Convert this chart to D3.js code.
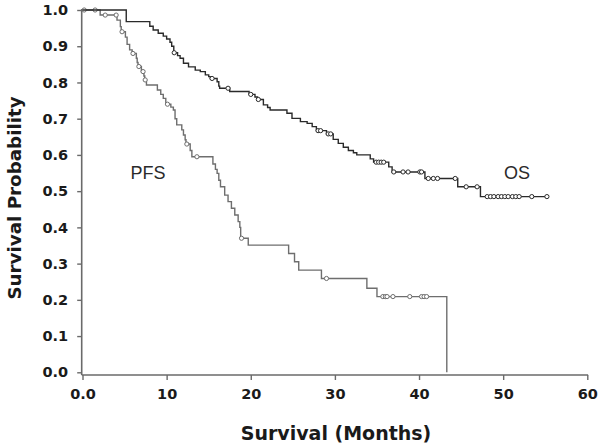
<!DOCTYPE html>
<html>
<head>
<meta charset="utf-8">
<script src="https://cdn.jsdelivr.net/npm/d3@7"></script>
<style>
  html, body { margin: 0; padding: 0; background: #fff; }
  svg { display: block; }
</style>
</head>
<body>
<svg id="chart" width="600" height="443"></svg>
<script>
// ---- Data ----
const xTickValues = [0, 10, 20, 30, 40, 50, 60];
const xTickLabels = ["0.0", "10", "20", "30", "40", "50", "60"];
const yTickValues = [0, 0.1, 0.2, 0.3, 0.4, 0.5, 0.6, 0.7, 0.8, 0.9, 1.0];

// OS: event times (months) and survival right after each step
const osTimes = [0, 5.2, 8.0, 8.4, 9.0, 9.6, 10.0, 10.4, 10.6, 10.85, 11.3, 11.6, 12.0, 12.6, 13.4, 14.0, 14.6, 15.0, 15.2,
  16.0, 16.2, 16.3, 17.5, 19.8, 20.5, 20.8, 21.5, 22.0, 22.3, 24.3, 24.9, 25.9, 26.7, 27.3, 27.8, 29.0, 29.8, 30.4, 31.0,
  31.6, 32.2, 32.6, 34.2, 34.6, 36.4, 36.8, 40.7, 44.6, 47.3];
const osSurv = [1.0, 0.968, 0.955, 0.945, 0.936, 0.928, 0.92, 0.911, 0.9, 0.882, 0.874, 0.867, 0.853, 0.843, 0.834, 0.83, 0.821, 0.816, 0.811,
  0.802, 0.79, 0.784, 0.775, 0.767, 0.76, 0.753, 0.738, 0.731, 0.724, 0.715, 0.701, 0.692, 0.687, 0.678, 0.667, 0.658, 0.643, 0.632, 0.621,
  0.612, 0.606, 0.6, 0.589, 0.58, 0.567, 0.553, 0.535, 0.512, 0.485];
const osEnd = 55.2;
const osCensor = [10.9, 15.4, 17.3, 20.0, 20.9, 28.0, 28.3, 29.2, 29.5, 34.9, 35.2, 35.5, 35.8, 37.0, 38.1, 38.7, 40.1, 40.3,
  41.1, 41.7, 42.2, 44.3, 45.6, 46.9, 48.1, 48.5, 48.9, 49.4, 49.8, 50.2, 50.6, 51.1, 51.5, 51.9, 53.4, 55.2];

// PFS
const pfsTimes = [0, 2.1, 4.1, 4.5, 4.6, 5.1, 5.3, 5.6, 5.9, 6.4, 6.5, 6.6, 7.0, 7.3, 7.4, 7.6, 8.9, 9.3, 9.6, 9.9, 10.5, 10.8,
  11.0, 11.2, 11.8, 12.0, 12.2, 12.3, 12.8, 13.0, 15.5, 15.8, 16.0, 16.2, 16.4, 16.9, 17.3, 17.7, 18.1, 18.5, 18.7, 18.8,
  19.7, 24.5, 25.2, 25.7, 28.4, 33.8, 35.0, 43.3];
const pfsSurv = [1.0, 0.986, 0.972, 0.954, 0.94, 0.925, 0.905, 0.89, 0.88, 0.867, 0.855, 0.844, 0.83, 0.818, 0.807, 0.793, 0.779, 0.767, 0.756, 0.74, 0.732, 0.724,
  0.70, 0.683, 0.669, 0.655, 0.642, 0.63, 0.612, 0.595, 0.575, 0.56, 0.549, 0.53, 0.512, 0.489, 0.471, 0.453, 0.434, 0.416, 0.40, 0.37,
  0.351, 0.328, 0.305, 0.282, 0.259, 0.232, 0.209, 0.0];
const pfsEnd = 43.3;
const pfsCensor = [0.2, 1.5, 2.7, 4.0, 4.7, 6.0, 6.7, 7.2, 7.45, 10.1, 12.4, 13.6, 18.9, 29.0, 35.7, 36.0, 36.2, 36.9, 38.9, 40.3, 40.6, 40.9];

// ---- Layout ----
const svg = d3.select("#chart");
const x = d3.scaleLinear().domain([0, 60]).range([82.5, 587.3]);
const y = d3.scaleLinear().domain([0, 1]).range([372.3, 10]);
const axisX0 = 81.7, axisY0 = 375;
const axisColor = "#6a6a6a";
const boldFont = "DejaVu Sans";

// Axis lines (offset like the original)
svg.append("line").attr("x1", axisX0).attr("x2", axisX0).attr("y1", y(1) - 1).attr("y2", axisY0)
  .attr("stroke", axisColor).attr("stroke-width", 1.6);
svg.append("line").attr("x1", axisX0).attr("x2", x(60) + 0.8).attr("y1", axisY0).attr("y2", axisY0)
  .attr("stroke", axisColor).attr("stroke-width", 1.6);

// Y axis
const yAxis = d3.axisLeft(y).tickValues(yTickValues).tickFormat(d3.format(".1f")).tickSize(4.5).tickPadding(9);
const gy = svg.append("g").attr("transform", `translate(${axisX0},0)`).call(yAxis);
gy.select(".domain").remove();
gy.selectAll(".tick line").attr("stroke", axisColor).attr("stroke-width", 1.4);
gy.selectAll(".tick text").attr("font-family", boldFont).attr("font-weight", "bold")
  .attr("font-size", 14.5).attr("fill", "#1a1a1a");

// X axis
const xAxis = d3.axisBottom(x).tickValues(xTickValues).tickFormat((d, i) => xTickLabels[i]).tickSize(5).tickPadding(9);
const gx = svg.append("g").attr("transform", `translate(0,${axisY0})`).call(xAxis);
gx.select(".domain").remove();
gx.selectAll(".tick line").attr("stroke", axisColor).attr("stroke-width", 1.4);
gx.selectAll(".tick text").attr("font-family", boldFont).attr("font-weight", "bold")
  .attr("font-size", 14.5).attr("fill", "#1a1a1a");

// Axis titles
svg.append("text").attr("x", 336).attr("y", 440).attr("text-anchor", "middle")
  .attr("font-family", boldFont).attr("font-weight", "bold").attr("font-size", 19).attr("fill", "#1a1a1a")
  .text("Survival (Months)");
svg.append("text").attr("transform", "translate(21,198) rotate(-90)").attr("text-anchor", "middle")
  .attr("font-family", boldFont).attr("font-weight", "bold").attr("font-size", 18.3).attr("fill", "#1a1a1a")
  .text("Survival Probability");

// Step helpers
function stepPoints(times, surv, end) {
  const pts = times.map((t, i) => [t, surv[i]]);
  if (end !== undefined && end > times[times.length - 1]) pts.push([end, surv[surv.length - 1]]);
  return pts;
}
function survAt(times, surv, t) {
  let s = surv[0];
  for (let i = 0; i < times.length; i++) { if (times[i] <= t) s = surv[i]; }
  return s;
}
const line = d3.line().x(d => x(d[0])).y(d => y(d[1])).curve(d3.curveStepAfter);

function drawCurve(times, surv, end, censor, color) {
  svg.append("path").datum(stepPoints(times, surv, end))
    .attr("d", line).attr("fill", "none").attr("stroke", color).attr("stroke-width", 1.4);
  svg.append("g").selectAll("circle").data(censor).join("circle")
    .attr("cx", d => x(d)).attr("cy", d => y(survAt(times, surv, d)))
    .attr("r", 2.1).attr("fill", "#fff").attr("stroke", color).attr("stroke-width", 1);
}

drawCurve(pfsTimes, pfsSurv, pfsEnd, pfsCensor, "#6e6e6e");
drawCurve(osTimes, osSurv, osEnd, osCensor, "#2a2a2a");

// Curve labels
svg.append("text").attr("x", 148).attr("y", 178.5).attr("text-anchor", "middle")
  .attr("font-family", "Liberation Sans, Arial, sans-serif").attr("font-size", 18).attr("fill", "#2a2a2a").text("PFS");
svg.append("text").attr("x", 517).attr("y", 178.5).attr("text-anchor", "middle")
  .attr("font-family", "Liberation Sans, Arial, sans-serif").attr("font-size", 18).attr("fill", "#2a2a2a").text("OS");
</script>
</body>
</html>
